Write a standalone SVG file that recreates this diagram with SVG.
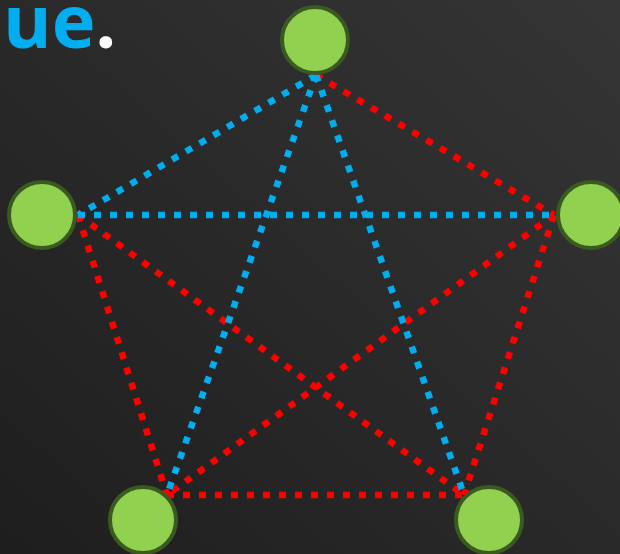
<svg xmlns="http://www.w3.org/2000/svg" width="620" height="554" viewBox="0 0 620 554">
<defs>
<linearGradient id="bg" x1="0" y1="1" x2="1" y2="0">
<stop offset="0" stop-color="#1e1e1e"/>
<stop offset="1" stop-color="#353535"/>
</linearGradient>
<style>
.n{fill:#92d050;stroke:#3a5a22;stroke-width:4}
.b{stroke:#00aeef;stroke-width:6.5;stroke-dasharray:7 9;fill:none}
.r{stroke:#ff0000;stroke-width:6.5;stroke-dasharray:7 9;fill:none}
</style>
</defs>
<rect width="620" height="554" fill="url(#bg)"/>
<text x="3" y="48" font-family="Open Sans, sans-serif" font-weight="bold" font-size="74" fill="#00aeef">ue<tspan fill="#ffffff">.</tspan></text>
<g id="connectors">
<line class="r" x1="316" y1="75" x2="554" y2="215"/>
<line class="r" x1="78" y1="215" x2="167" y2="495"/>
<line class="r" x1="78" y1="215" x2="464" y2="495"/>
<line class="r" x1="554" y1="215" x2="167" y2="495"/>
<line class="r" x1="554" y1="215" x2="464" y2="495"/>
<line class="r" x1="167" y1="495" x2="464" y2="495"/>
<line class="b" x1="316" y1="75" x2="78" y2="215"/>
<line class="b" x1="316" y1="75" x2="167" y2="495"/>
<line class="b" x1="316" y1="75" x2="464" y2="495"/>
<line class="b" x1="78" y1="215" x2="554" y2="215"/>
</g>
<g id="node-top"><circle class="n" cx="315" cy="40" r="33"/></g>
<g id="node-left"><circle class="n" cx="42" cy="215" r="33"/></g>
<g id="node-right"><circle class="n" cx="591" cy="215" r="33"/></g>
<g id="node-bl"><circle class="n" cx="143" cy="520" r="33"/></g>
<g id="node-br"><circle class="n" cx="489" cy="520" r="33"/></g>
</svg>
